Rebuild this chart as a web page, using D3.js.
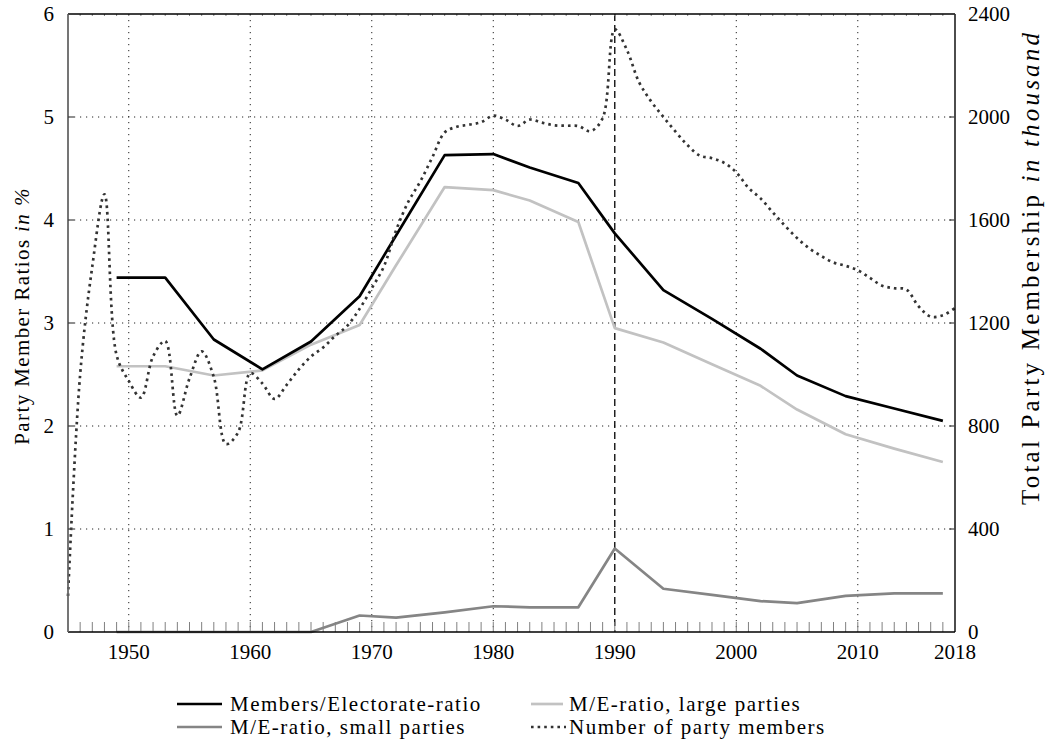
<!DOCTYPE html>
<html>
<head>
<meta charset="utf-8">
<script src="https://cdn.jsdelivr.net/npm/d3@7"></script>
<style>
  html, body { margin: 0; padding: 0; background: #fff; }
  svg text { font-family: "Liberation Serif", "Times New Roman", serif; fill: #000; }
</style>
</head>
<body>
<svg id="chart" width="1048" height="749"></svg>
<script>
// Federal election years and party-member / electorate ratios (in %)
const electionYears = [1949, 1953, 1957, 1961, 1965, 1969, 1972, 1976, 1980, 1983, 1987, 1990, 1994, 1998, 2002, 2005, 2009, 2013, 2017];
const ratioAll   = [3.44, 3.44, 2.84, 2.55, 2.82, 3.26, 3.85, 4.63, 4.64, 4.51, 4.36, 3.87, 3.32, 3.04, 2.75, 2.49, 2.29, 2.17, 2.05];
const ratioLarge = [2.58, 2.58, 2.49, 2.54, 2.79, 2.98, 3.56, 4.32, 4.29, 4.19, 3.98, 2.95, 2.81, 2.60, 2.39, 2.16, 1.92, 1.78, 1.65];
const ratioSmall = [0, 0, 0, 0, 0, 0.16, 0.14, 0.19, 0.25, 0.24, 0.24, 0.81, 0.42, 0.36, 0.30, 0.28, 0.35, 0.375, 0.375];

// Total party membership per year (in thousand)
const memberYears = d3.range(1945, 2019);
const memberTotals = [
  140, 1000, 1420, 1700, 1075, 975, 910, 1070, 1130, 840,
  985, 1090, 990, 730, 775, 1005, 965, 905, 960, 1020,
  1070, 1105, 1150, 1190, 1255, 1335, 1420, 1560, 1670, 1750,
  1845, 1940, 1962, 1970, 1980, 2005, 1990, 1965, 1990, 1978,
  1968, 1966, 1965, 1945, 1995, 2340, 2260, 2135, 2060, 2000,
  1943, 1890, 1850, 1840, 1822, 1785, 1725, 1684, 1630, 1578,
  1530, 1490, 1460, 1435, 1422, 1405, 1375, 1345, 1335, 1330,
  1265, 1225, 1230, 1258
];

// Axis ticks
const xTicks = [1950, 1960, 1970, 1980, 1990, 2000, 2010, 2018];
const xGrid = [1950, 1960, 1970, 1980, 2000, 2010];
const markYear = 1990;
const yLeftTicks = [0, 1, 2, 3, 4, 5, 6];
const yRightTicks = [0, 400, 800, 1200, 1600, 2000, 2400];

const legendLabels = ["Members/Electorate-ratio", "M/E-ratio, large parties", "M/E-ratio, small parties", "Number of party members"];

const svg = d3.select("#chart");
const L = 68, R = 955, T = 14, B = 632;

const x = d3.scaleLinear().domain([1945, 2018]).range([L, R]);
const yL = d3.scaleLinear().domain([0, 6]).range([B, T]);
const yR = d3.scaleLinear().domain([0, 2400]).range([B, T]);

svg.append("rect").attr("width", 1048).attr("height", 749).attr("fill", "#fff");

const DOTS = "2.6,4";

// grid
const grid = svg.append("g").attr("stroke", "#222").attr("stroke-width", 1).attr("stroke-dasharray", "1.2,4.8");
grid.selectAll("line.v").data(xGrid).join("line")
  .attr("x1", d => x(d)).attr("x2", d => x(d)).attr("y1", T).attr("y2", B);
grid.selectAll("line.h").data(yLeftTicks.filter(d => d > 0 && d < 6)).join("line")
  .attr("x1", L).attr("x2", R).attr("y1", d => yL(d)).attr("y2", d => yL(d));

// marker for 1990
svg.append("line")
  .attr("x1", x(markYear)).attr("x2", x(markYear)).attr("y1", T).attr("y2", B)
  .attr("stroke", "#000").attr("stroke-width", 1.3).attr("stroke-dasharray", "7,4");

// minor year ticks along bottom and top
const minorYears = d3.range(1946, 2018);
svg.append("g").selectAll("line").data(minorYears).join("line")
  .attr("x1", d => x(d)).attr("x2", d => x(d)).attr("y1", B).attr("y2", B - 10)
  .attr("stroke", "#808080").attr("stroke-width", 1);
svg.append("g").selectAll("line").data(minorYears).join("line")
  .attr("x1", d => x(d)).attr("x2", d => x(d)).attr("y1", T).attr("y2", T + 2)
  .attr("stroke", "#808080").attr("stroke-width", 1);

// series lines
const lineL = d3.line().x(d => x(d[0])).y(d => yL(d[1]));
const pairs = vals => electionYears.map((yr, i) => [yr, vals[i]]);

svg.append("path").datum(pairs(ratioSmall)).attr("d", lineL)
  .attr("fill", "none").attr("stroke", "#858585").attr("stroke-width", 2.7).attr("stroke-linejoin", "round");
svg.append("path").datum(pairs(ratioLarge)).attr("d", lineL)
  .attr("fill", "none").attr("stroke", "#c2c2c2").attr("stroke-width", 2.7).attr("stroke-linejoin", "round");
svg.append("path").datum(pairs(ratioAll)).attr("d", lineL)
  .attr("fill", "none").attr("stroke", "#000").attr("stroke-width", 2.7).attr("stroke-linejoin", "round");

const lineR = d3.line().x(d => x(d[0])).y(d => yR(d[1])).curve(d3.curveCatmullRom.alpha(0.5));
svg.append("path").datum(memberYears.map((yr, i) => [yr, memberTotals[i]])).attr("d", lineR)
  .attr("fill", "none").attr("stroke", "#333").attr("stroke-width", 2.7).attr("stroke-dasharray", DOTS);

// frame
svg.append("line").attr("x1", L).attr("x2", R).attr("y1", T).attr("y2", T).attr("stroke", "#000").attr("stroke-width", 1.4);
svg.append("line").attr("x1", L).attr("x2", R).attr("y1", B).attr("y2", B).attr("stroke", "#000").attr("stroke-width", 1.4);
svg.append("line").attr("x1", R).attr("x2", R).attr("y1", T).attr("y2", B).attr("stroke", "#000").attr("stroke-width", 1.4);
svg.append("line").attr("x1", L).attr("x2", L).attr("y1", T).attr("y2", B).attr("stroke", "#666").attr("stroke-width", 1.8);

// y ticks
svg.append("g").selectAll("line").data(yLeftTicks.filter(d => d > 0)).join("line")
  .attr("x1", L).attr("x2", L + 6).attr("y1", d => yL(d)).attr("y2", d => yL(d))
  .attr("stroke", "#444").attr("stroke-width", 1.2);
svg.append("g").selectAll("line").data(yRightTicks.filter(d => d > 0)).join("line")
  .attr("x1", R).attr("x2", R - 6).attr("y1", d => yR(d)).attr("y2", d => yR(d))
  .attr("stroke", "#444").attr("stroke-width", 1.2);

// tick labels
const fs = 21;
svg.append("g").selectAll("text").data(xTicks).join("text")
  .attr("x", d => x(d)).attr("y", 659).attr("text-anchor", "middle")
  .attr("font-size", fs).text(d => d);
svg.append("g").selectAll("text").data(yLeftTicks).join("text")
  .attr("x", 54).attr("y", d => yL(d) + 7).attr("text-anchor", "end")
  .attr("font-size", fs).text(d => d);
svg.append("g").selectAll("text").data(yRightTicks).join("text")
  .attr("x", 968).attr("y", d => yR(d) + 7).attr("text-anchor", "start")
  .attr("font-size", fs).text(d => d);

// axis titles
const leftTitle = svg.append("text").attr("transform", "translate(29,316) rotate(-90)")
  .attr("text-anchor", "middle").attr("font-size", fs).attr("letter-spacing", 1.4);
leftTitle.append("tspan").text("Party Member Ratios ");
leftTitle.append("tspan").attr("font-style", "italic").text("in %");

// right title runs from just above the 400 label up to near the top
const rightTitle = svg.append("text").attr("transform", "translate(1039,505) rotate(-90)")
  .attr("text-anchor", "start").attr("font-size", 25);
rightTitle.append("tspan").text("Total Party Membership ");
rightTitle.append("tspan").attr("font-style", "italic").text("in thousand");
{
  const span = 472;
  const n = "Total Party Membership in thousand".length;
  const len = rightTitle.node().getComputedTextLength();
  rightTitle.attr("letter-spacing", Math.max(0, (span - len) / (n - 1)));
}

// legend
const legendItems = [
  { label: legendLabels[0], x1: 177, x2: 222, tx: 230, y: 704, color: "#000", dash: null },
  { label: legendLabels[1], x1: 531, x2: 563, tx: 569, y: 704, color: "#c2c2c2", dash: null },
  { label: legendLabels[2], x1: 177, x2: 222, tx: 230, y: 727, color: "#858585", dash: null },
  { label: legendLabels[3], x1: 531, x2: 566, tx: 569, y: 727, color: "#333", dash: DOTS }
];
const lg = svg.append("g");
legendItems.forEach(it => {
  lg.append("line").attr("x1", it.x1).attr("x2", it.x2).attr("y1", it.y).attr("y2", it.y)
    .attr("stroke", it.color).attr("stroke-width", 2.7).attr("stroke-dasharray", it.dash);
  lg.append("text").attr("x", it.tx).attr("y", it.y + 7).attr("font-size", fs)
    .attr("letter-spacing", 1.5).text(it.label);
});
</script>
</body>
</html>
